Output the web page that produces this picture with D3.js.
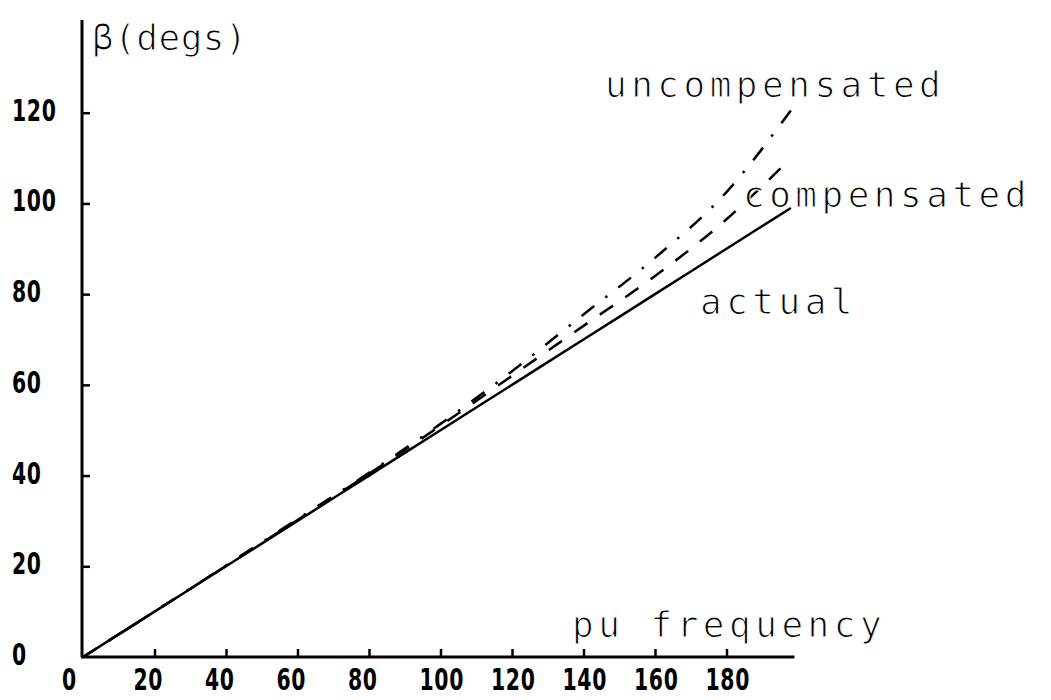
<!DOCTYPE html>
<html>
<head>
<meta charset="utf-8">
<script src="https://cdn.jsdelivr.net/npm/d3@7"></script>
<style>
  html, body { margin: 0; padding: 0; background: #fff; }
  svg { display: block; }
  .tick-label { font-family: "DejaVu Sans", sans-serif; font-weight: bold; font-size: 30px; letter-spacing: 1px; fill: #000; }
  .lbl { font-family: "DejaVu Sans Mono", monospace; font-size: 36px; letter-spacing: 4.5px; fill: #000;
         stroke: #fff; stroke-width: 1.1px; }
</style>
</head>
<body>
<script>
// ---- data ----
const freq          = [0, 20, 40, 60, 80, 100, 120, 140, 160, 180, 198];
const actual        = [0, 10, 20, 30, 40, 50, 60, 70, 80, 90, 99];
const compensated   = [0, 10, 20.1, 30.2, 40.4, 51, 62, 73, 84, 96.5, 110];
const uncompensated = [0, 10, 20.2, 30.4, 40.6, 51.4, 63, 75.5, 88, 102.5, 120.5];
const xTicks = [0, 20, 40, 60, 80, 100, 120, 140, 160, 180];
const yTicks = [0, 20, 40, 60, 80, 100, 120];
const xTitle = "pu frequency";
const yTitle = "β(degs)";
const seriesNames = ["uncompensated", "compensated", "actual"];

const W = 1051, H = 700;
const svg = d3.select("body").append("svg").attr("width", W).attr("height", H);

const x = d3.scaleLinear().domain([0, 200]).range([83, 798]);
const y = d3.scaleLinear().domain([0, 140]).range([657, 22]);

// axes lines
svg.append("line").attr("x1", x(0) - 1).attr("x2", x(0) - 1).attr("y1", y(0)).attr("y2", 20)
  .attr("stroke", "#000").attr("stroke-width", 3);
svg.append("line").attr("x1", x(0) - 2).attr("x2", x(199)).attr("y1", y(0)).attr("y2", y(0))
  .attr("stroke", "#000").attr("stroke-width", 3);

// x ticks (inward) via d3 axis
const gx = svg.append("g").attr("transform", `translate(0,${y(0)})`)
  .call(d3.axisBottom(x).tickValues(xTicks.filter(d => d > 0)).tickSize(-8).tickFormat(""));
gx.select(".domain").remove();
gx.selectAll(".tick line").attr("stroke", "#000").attr("stroke-width", 2.5);

const gy = svg.append("g").attr("transform", `translate(${x(0) - 1},0)`)
  .call(d3.axisLeft(y).tickValues(yTicks.filter(d => d > 0)).tickSize(-8).tickFormat(""));
gy.select(".domain").remove();
gy.selectAll(".tick line").attr("stroke", "#000").attr("stroke-width", 2.5);

// tick labels (condensed digits)
const sx = 0.68;
svg.selectAll(".xl").data(xTicks).enter().append("text")
  .attr("class", "tick-label")
  .attr("transform", d => `translate(${x(d) - 21},690) scale(${sx},1)`)
  .text(d => d);
svg.selectAll(".yl").data(yTicks).enter().append("text")
  .attr("class", "tick-label")
  .attr("transform", d => `translate(12,${y(d) + 8}) scale(${sx},1)`)
  .text(d => d);

// lines
const line = d3.line().x(d => x(d[0])).y(d => y(d[1])).curve(d3.curveMonotoneX);
const mk = arr => freq.map((f, i) => [f, arr[i]]);

svg.append("path").datum(mk(uncompensated)).attr("d", line)
  .attr("fill", "none").attr("stroke", "#000").attr("stroke-width", 2.5)
  .attr("stroke-dasharray", "16,14,2.5,14");
svg.append("path").datum(mk(compensated)).attr("d", line)
  .attr("fill", "none").attr("stroke", "#000").attr("stroke-width", 2.5)
  .attr("stroke-dasharray", "16,15");
svg.append("path").datum(mk(actual)).attr("d", line)
  .attr("fill", "none").attr("stroke", "#000").attr("stroke-width", 2.5);

// labels
svg.append("text").attr("class", "lbl").attr("x", 92).attr("y", 50)
  .style("letter-spacing", "0.5px").text(yTitle);
svg.append("text").attr("class", "lbl").attr("x", 572).attr("y", 637).text(xTitle);
svg.append("text").attr("class", "lbl").attr("x", 605).attr("y", 97).text(seriesNames[0]);
svg.append("text").attr("class", "lbl").attr("x", 743).attr("y", 207).text(seriesNames[1]);
svg.append("text").attr("class", "lbl").attr("x", 700).attr("y", 314).text(seriesNames[2]);
</script>
</body>
</html>
